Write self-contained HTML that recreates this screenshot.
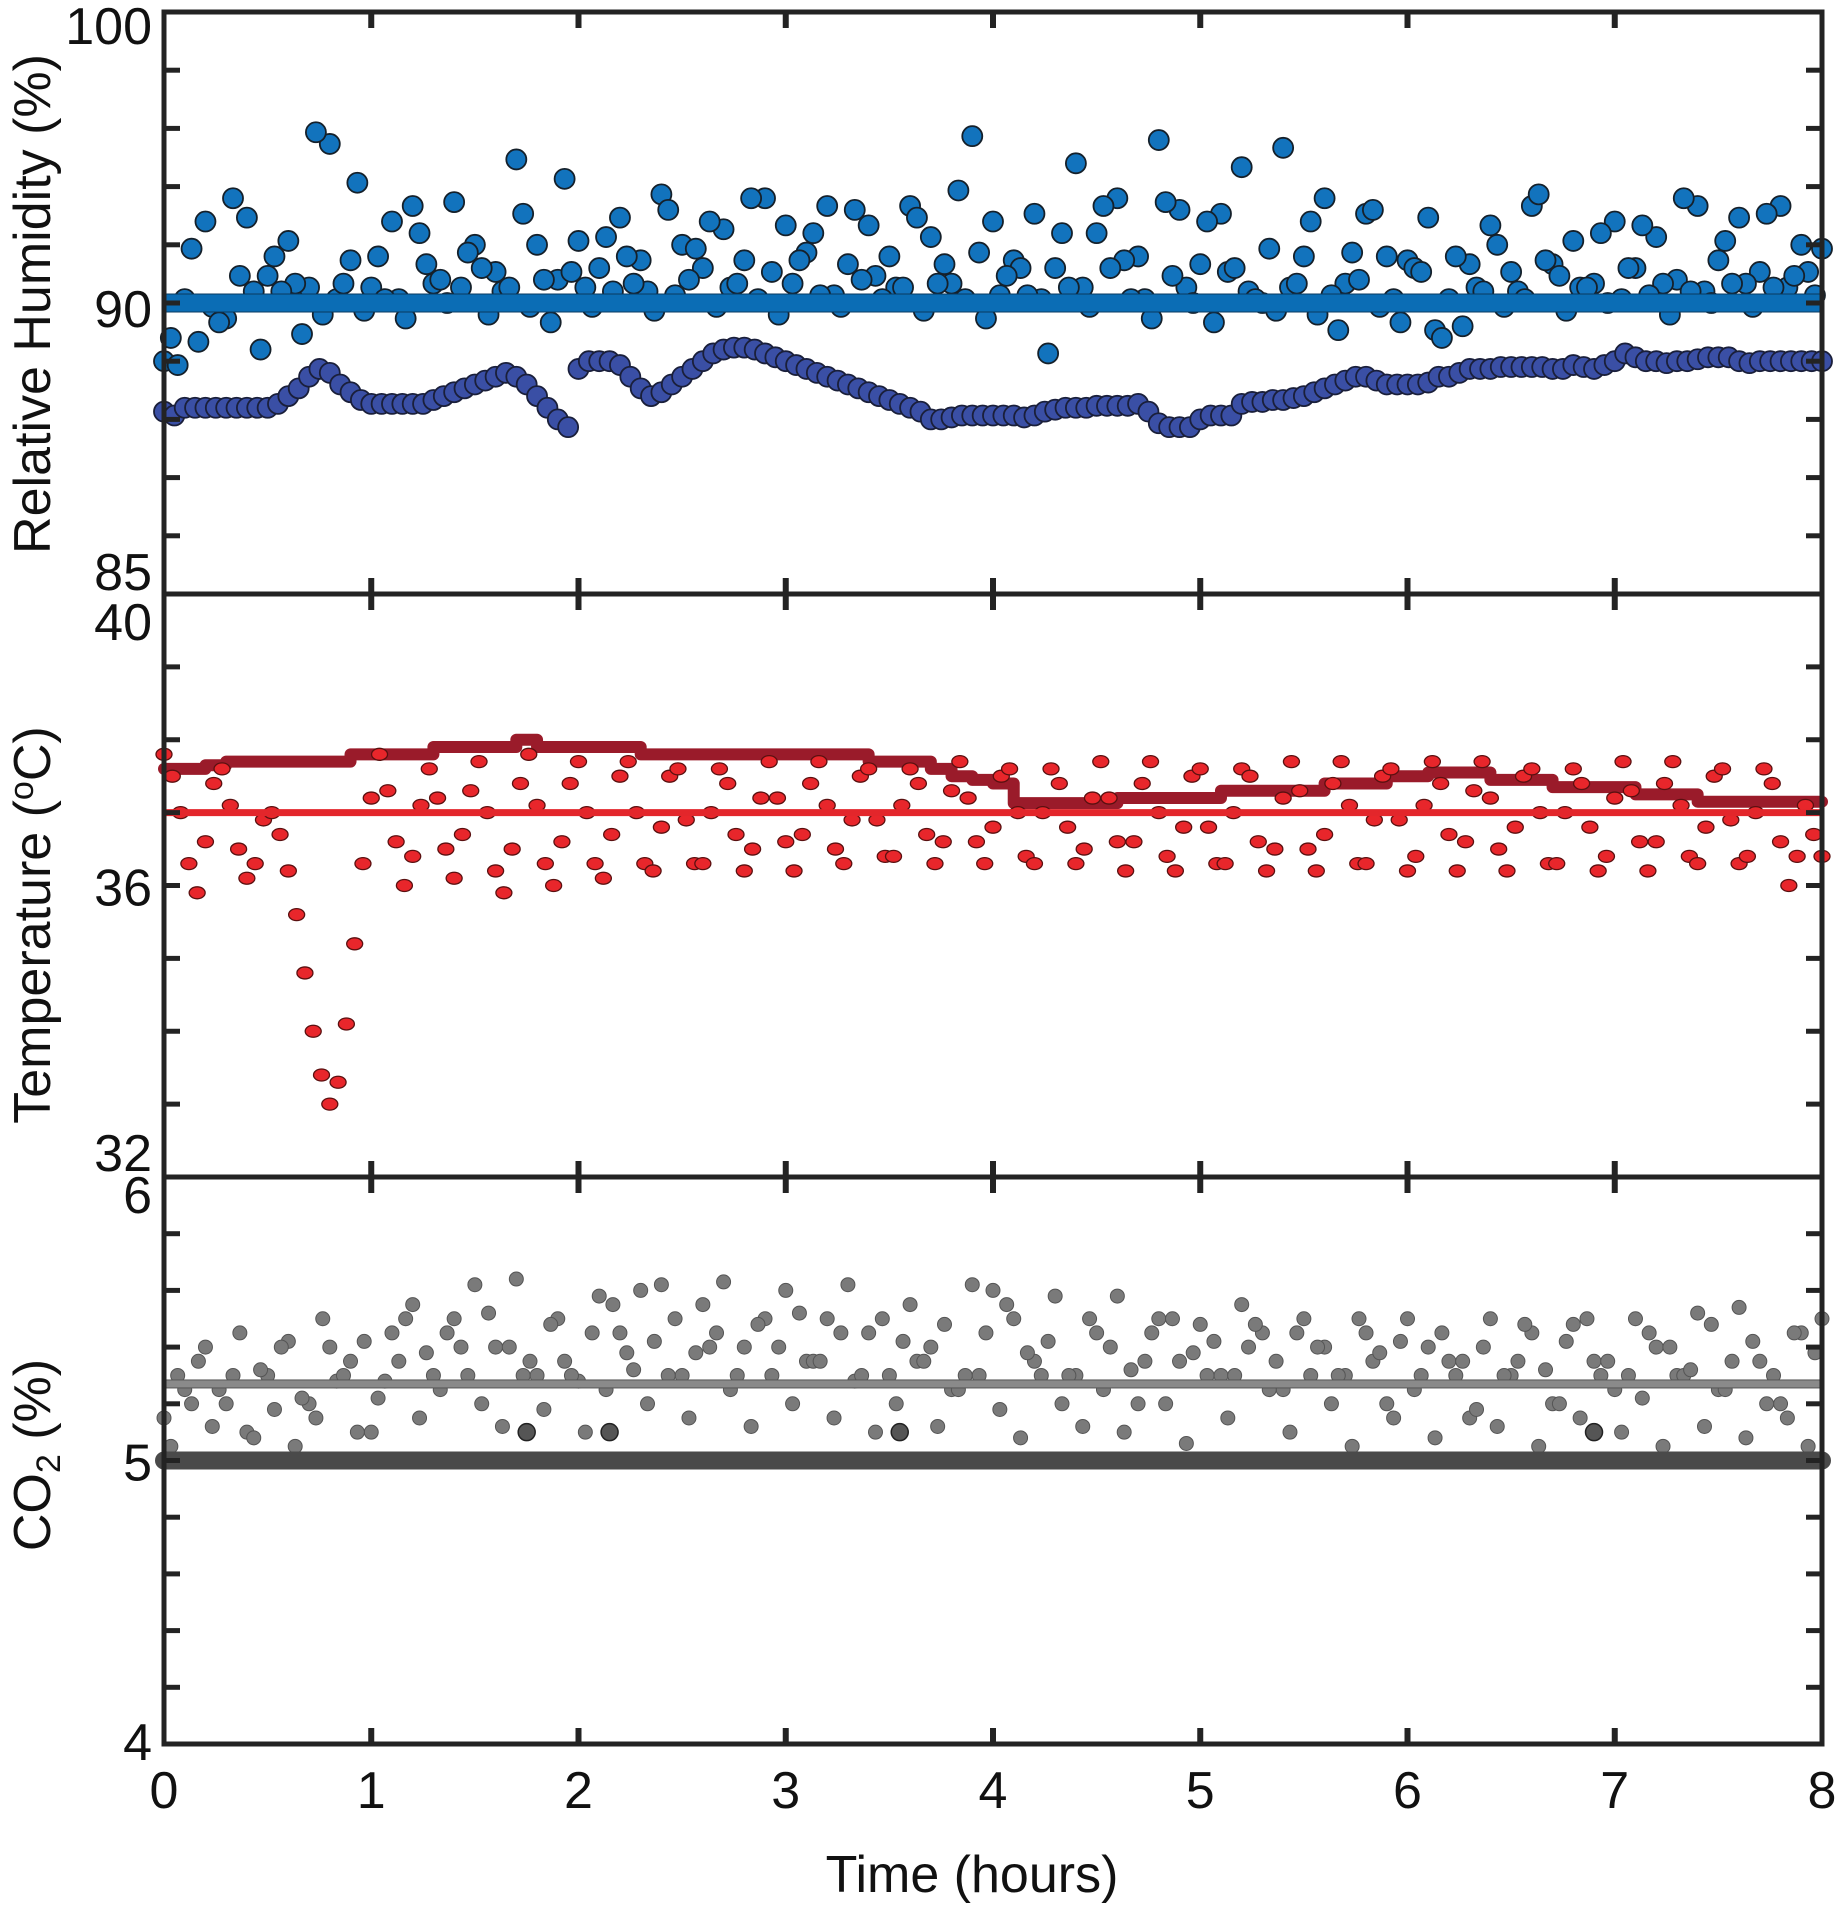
<!DOCTYPE html>
<html><head><meta charset="utf-8"><style>
html,body{margin:0;padding:0;background:#fff;}
svg{display:block;font-family:"Liberation Sans",sans-serif;}
</style></head><body>
<svg id="fig" width="1838" height="1909" viewBox="0 0 1838 1909" xmlns="http://www.w3.org/2000/svg">
<g id="marks"></g>
<g id="axes"></g>
<text x="972" y="1892" font-size="52" text-anchor="middle" fill="#111">Time (hours)</text>
<text transform="translate(50,304) rotate(-90)" font-size="52" text-anchor="middle" fill="#111">Relative Humidity (%)</text>
<text transform="translate(50,925) rotate(-90)" font-size="52" text-anchor="middle" fill="#111">Temperature (<tspan font-size="34" dy="-17">o</tspan><tspan dy="17">C)</tspan></text>
<text transform="translate(50,1455) rotate(-90)" font-size="52" text-anchor="middle" fill="#111">CO<tspan font-size="34" dy="10">2</tspan><tspan dy="-10"> (%)</tspan></text>
</svg>
<script>
// ---------- data ----------
const xTickLabels = ["0","1","2","3","4","5","6","7","8"];
const humLineValue = 92.5;
const humScatterA = [91.0,92.6,94.6,92.1,94.7,93.2,94.1,92.9,96.6,93.6,92.9,94.6,95.0,93.0,95.1,94.0,93.3,96.2,94.0,93.1,94.1,93.4,94.7,93.6,95.3,94.0,93.4,94.4,93.6,95.2,94.5,93.8,95.0,93.5,94.5,93.7,95.0,94.2,93.0,96.8,94.6,93.6,94.8,93.4,96.1,94.3,95.2,93.7,96.7,94.9,93.5,94.8,96.0,92.5,96.5,93.7,95.2,93.0,94.8,93.7,93.6,94.7,92.6,93.5,94.5,93.3,95.0,93.5,94.1,93.0,94.6,93.4,94.2,93.1,95.0,93.6,94.7,93.3,95.0,94.0,93.9];
const humScatterB = [91.6,93.9,92.4,95.2,92.8,93.7,93.0,96.9,92.6,95.6,93.7,92.6,94.3,93.1,92.9,93.4,92.8,94.8,93.1,95.7,92.9,94.2,93.7,92.8,94.9,93.1,94.6,92.9,95.2,93.3,93.0,94.3,92.7,94.9,93.2,92.9,94.7,93.0,95.4,93.8,92.7,93.4,92.6,94.3,92.9,95.0,93.6,92.6,95.1,92.9,94.6,93.3,92.8,93.9,92.9,94.6,92.7,93.8,94.9,92.6,93.4,91.8,93.7,92.9,94.0,92.8,95.3,93.2,92.9,94.3,92.6,94.5,93.0,95.2,92.8,94.1,93.0,94.8,92.9,93.3];
const humScatterC = [90.9,91.5,92.0,93.2,91.3,92.8,91.7,92.2,93.0,92.3,92.6,92.1,93.5,92.5,93.8,92.2,92.9,92.4,92.0,93.3,92.4,92.8,93.0,92.3,92.7,93.9,92.4,93.0,92.6,92.2,93.6,92.7,92.4,93.1,92.6,92.9,92.3,93.5,92.6,92.1,93.2,92.7,91.2,92.9,92.4,93.4,92.6,92.1,93.2,92.5,92.0,93.4,92.6,92.3,93.0,92.2,91.8,93.1,92.4,92.0,93.3,91.6,91.9,92.8,92.4,92.6,93.6,92.3,92.9,92.5,93.4,92.7,92.2,92.8,92.5,93.0,92.4,92.9,93.2,92.7];
const humSensor = [89.7,89.6,89.8,89.8,89.8,89.8,89.8,89.8,89.8,89.8,89.8,89.9,90.1,90.3,90.6,90.8,90.7,90.4,90.2,90.0,89.9,89.9,89.9,89.9,89.9,89.9,90.0,90.1,90.2,90.3,90.4,90.5,90.6,90.7,90.6,90.4,90.1,89.8,89.5,89.3,90.8,91.0,91.0,91.0,90.9,90.6,90.3,90.1,90.2,90.4,90.6,90.8,91.0,91.2,91.3,91.35,91.35,91.3,91.2,91.1,91.0,90.9,90.8,90.7,90.6,90.5,90.4,90.3,90.2,90.1,90.0,89.9,89.8,89.7,89.5,89.5,89.55,89.6,89.6,89.6,89.6,89.6,89.6,89.55,89.6,89.7,89.75,89.8,89.8,89.8,89.85,89.85,89.85,89.85,89.9,89.7,89.4,89.3,89.3,89.3,89.5,89.6,89.6,89.6,89.9,89.95,89.95,90.0,90.0,90.05,90.1,90.2,90.3,90.4,90.5,90.6,90.6,90.5,90.4,90.4,90.4,90.4,90.45,90.6,90.6,90.7,90.8,90.8,90.8,90.85,90.85,90.85,90.85,90.85,90.8,90.8,90.9,90.85,90.8,90.9,91.0,91.2,91.1,91.0,91.0,90.95,91.0,91.0,91.05,91.1,91.1,91.1,91.0,90.95,91.0,91.0,91.0,91.0,91.0,91.0,91.0];
const tempLineValue = 37.0;
const tempSensorStep = [37.6,37.6,37.65,37.7,37.7,37.7,37.7,37.7,37.7,37.8,37.8,37.8,37.8,37.9,37.9,37.9,37.9,38.0,37.9,37.9,37.9,37.9,37.9,37.8,37.8,37.8,37.8,37.8,37.8,37.8,37.8,37.8,37.8,37.8,37.7,37.7,37.7,37.6,37.5,37.45,37.4,37.13,37.13,37.13,37.13,37.13,37.2,37.2,37.2,37.2,37.2,37.3,37.3,37.3,37.3,37.3,37.4,37.4,37.4,37.5,37.5,37.55,37.55,37.55,37.45,37.45,37.45,37.35,37.35,37.35,37.35,37.25,37.25,37.25,37.15,37.15,37.15,37.15,37.15,37.15,37.15];
const tempScatter = [37.8,37.5,37.0,36.3,35.9,36.6, 37.4,37.6,37.1,36.5,36.1,36.3, 36.9,37.0,36.7,36.2,35.6,34.8, 34.0,33.4,33.0,33.3,34.1,35.2, 36.3,37.2,37.8,37.3,36.6,36.0, 36.4,37.1,37.6,37.2,36.5,36.1, 36.7,37.3,37.7,37.0,36.2,35.9, 36.5,37.4,37.8,37.1,36.3,36.0, 36.6,37.4,37.7,37.0,36.3,36.1, 36.7,37.5,37.7,37.0,36.3,36.2, 36.8,37.5,37.6,36.9,36.3,36.3, 37.0,37.6,37.4,36.7,36.2,36.5, 37.2,37.7,37.2,36.6,36.2,36.7, 37.4,37.7,37.1,36.5,36.3,36.9, 37.5,37.6,36.9,36.4,36.4,37.1, 37.6,37.4,36.7,36.3,36.6,37.3, 37.7,37.2,36.6,36.3,36.8,37.5, 37.6,37.0,36.4,36.3,37.0,37.6, 37.4,36.8,36.3,36.5,37.2,37.7, 37.2,36.6,36.2,36.6,37.4,37.7, 37.0,36.4,36.2,36.8,37.5,37.6, 36.8,36.3,36.3,37.0,37.6,37.5, 36.6,36.2,36.5,37.2,37.7,37.3, 36.5,36.2,36.7,37.4,37.7,37.1, 36.3,36.3,36.9,37.5,37.6,36.9, 36.2,36.4,37.1,37.7,37.4,36.7, 36.2,36.6,37.3,37.7,37.2,36.5, 36.2,36.8,37.5,37.6,37.0,36.3, 36.3,37.0,37.6,37.4,36.8,36.2, 36.4,37.2,37.7,37.3,36.6,36.2, 36.6,37.4,37.7,37.1,36.4,36.3, 36.8,37.5,37.6,36.9,36.3,36.4, 37.0,37.6,37.4,36.6,36.0,36.4, 37.1,36.7,36.4];
const co2LineValue = 5.27;
const co2BaseValue = 5.0;
const co2SpikeTimes = [1.75, 2.15, 3.55, 6.9];
const co2SpikeValues = [5.1, 5.1, 5.1, 5.1];
const co2ScatterA = [5.15,5.25,5.4,5.2,5.1,5.3,5.42,5.2,5.4,5.35,5.1,5.45,5.55,5.3,5.5,5.62,5.4,5.64,5.3,5.5,5.28,5.58,5.45,5.6,5.62,5.3,5.55,5.63,5.4,5.5,5.6,5.35,5.5,5.62,5.45,5.3,5.55,5.4,5.25,5.62,5.6,5.5,5.35,5.58,5.3,5.45,5.58,5.2,5.5,5.35,5.48,5.3,5.55,5.45,5.25,5.5,5.4,5.3,5.45,5.2,5.5,5.4,5.35,5.15,5.5,5.3,5.45,5.2,5.48,5.35,5.25,5.5,5.4,5.3,5.52,5.25,5.54,5.35,5.2,5.45,5.5];
const co2ScatterB = [5.05,5.2,5.12,5.3,5.08,5.18,5.05,5.15,5.28,5.1,5.22,5.35,5.15,5.25,5.4,5.2,5.12,5.3,5.18,5.35,5.1,5.25,5.38,5.2,5.3,5.15,5.4,5.25,5.12,5.3,5.2,5.35,5.15,5.28,5.1,5.2,5.35,5.12,5.25,5.3,5.18,5.08,5.3,5.2,5.12,5.25,5.1,5.35,5.2,5.06,5.3,5.15,5.4,5.25,5.1,5.3,5.2,5.05,5.35,5.15,5.25,5.08,5.3,5.18,5.12,5.35,5.05,5.2,5.15,5.3,5.1,5.22,5.05,5.3,5.12,5.25,5.08,5.2,5.15,5.05];
const co2ScatterC = [5.3,5.35,5.25,5.45,5.32,5.4,5.22,5.5,5.3,5.42,5.28,5.5,5.38,5.45,5.3,5.52,5.4,5.35,5.48,5.3,5.45,5.55,5.32,5.42,5.5,5.38,5.45,5.3,5.48,5.4,5.52,5.35,5.45,5.3,5.5,5.42,5.35,5.48,5.3,5.45,5.55,5.38,5.42,5.3,5.5,5.4,5.32,5.45,5.5,5.38,5.42,5.3,5.48,5.35,5.45,5.4,5.3,5.5,5.38,5.42,5.3,5.45,5.35,5.4,5.3,5.48,5.32,5.42,5.5,5.35,5.3,5.45,5.4,5.32,5.48,5.35,5.42,5.3,5.45,5.38];
const humTickLabels = ["100","90","85"];
const humTickLabelValues = [100, 92.5, 85];
const tempTickLabels = ["40","36","32"];
const tempTickLabelValues = [40, 36, 32];
const co2TickLabels = ["6","5","4"];
const co2TickLabelValues = [6, 5, 4];

// ---------- layout ----------
const NS = "http://www.w3.org/2000/svg";
const XL = 164, XR = 1822;
const panels = [
  {top:12, bot:594, min:85, max:100, step:1.5},
  {top:594, bot:1177, min:32, max:40, step:1},
  {top:1177, bot:1744, min:4, max:6, step:0.2}
];
function x(t){ return XL + (XR-XL)*t/8; }
function yOf(p, v){ return p.bot - (p.bot-p.top)*(v-p.min)/(p.max-p.min); }
const marks = document.getElementById('marks');
const axes = document.getElementById('axes');
function mk(tag, attrs, parent){
  const e = document.createElementNS(NS, tag);
  for (const k in attrs) e.setAttribute(k, attrs[k]);
  parent.appendChild(e); return e;
}
function idxTime(i, n, offset, span){ return offset + i*span/(n-1); }

// ---------- humidity ----------
const P1 = panels[0];
const hg = mk('g', {}, marks);


[[humScatterA,0,8],[humScatterB,0.033,7.9],[humScatterC,0.066,7.9]].forEach(([arr,off,span])=>{
  arr.forEach((v,i)=>{
    const c = mk('circle', {cx:x(idxTime(i,arr.length,off,span)), cy:yOf(P1,v), r:10, fill:'#1273bd', stroke:'#15202a', 'stroke-width':1.8}, hg);
    
    
  });
});
humSensor.forEach((v,i)=>{
  const c = mk('circle', {cx:x(idxTime(i,humSensor.length,0,8)), cy:yOf(P1,v), r:10, fill:'#3a4fa5', stroke:'#1a1f3a', 'stroke-width':1.8}, hg);
  
  
});
const hl = mk('rect', {x:XL, y:yOf(P1,humLineValue)-9, width:XR-XL, height:18, fill:'#0b6db5', stroke:'#0a3a60', 'stroke-width':1}, hg);



// ---------- temperature ----------
const P2 = panels[1];
const tg = mk('g', {}, marks);


let d = '';
tempSensorStep.forEach((v,i)=>{
  const t0 = idxTime(i,tempSensorStep.length,0,8);
  const yy = yOf(P2,v);
  d += (i===0 ? 'M' : 'L') + x(t0) + ' ' + yy + ' L' + x(Math.min(8,t0+0.1)) + ' ' + yy + ' ';
});
const sp = mk('path', {d:d, fill:'none', stroke:'#9a1b2a', 'stroke-width':12, 'stroke-linejoin':'round', 'stroke-linecap':'round'}, tg);


tempScatter.forEach((v,i)=>{
  const c = mk('ellipse', {cx:x(idxTime(i,tempScatter.length,0,8)), cy:yOf(P2,v), rx:8, ry:6, fill:'#e8262b', stroke:'#5a1010', 'stroke-width':1.3}, tg);
  
  
});
const tl = mk('rect', {x:XL, y:yOf(P2,tempLineValue)-3.5, width:XR-XL, height:7, fill:'#e3262b'}, tg);



// ---------- CO2 ----------
const P3 = panels[2];
const cg = mk('g', {}, marks);


[[co2ScatterA,0,8],[co2ScatterB,0.033,7.9],[co2ScatterC,0.066,7.9]].forEach(([arr,off,span])=>{
  arr.forEach((v,i)=>{
    const c = mk('circle', {cx:x(idxTime(i,arr.length,off,span)), cy:yOf(P3,v), r:7, fill:'#7a7a7a', stroke:'#555', 'stroke-width':1}, cg);
    
    
  });
});
const cl = mk('rect', {x:XL, y:yOf(P3,co2LineValue)-4, width:XR-XL, height:8, fill:'#8a8a8a', stroke:'#555', 'stroke-width':1}, cg);


const bl = mk('line', {x1:x(0), y1:yOf(P3,co2BaseValue), x2:x(8), y2:yOf(P3,co2BaseValue), stroke:'#4a4a4a', 'stroke-width':18, 'stroke-linecap':'round'}, cg);


co2SpikeTimes.forEach((t,i)=>{
  const c = mk('circle', {cx:x(t), cy:yOf(P3,co2SpikeValues[i]), r:8.5, fill:'#555', stroke:'#222', 'stroke-width':1.5}, cg);
  
  
});

// ---------- axes ----------
const AX = '#232323';
panels.forEach((p,pi)=>{
  const fr = mk('rect', {x:XL, y:p.top, width:XR-XL, height:p.bot-p.top, fill:'none', stroke:AX, 'stroke-width':5}, axes);
  
  
  const n = Math.round((p.max-p.min)/p.step);
  for (let k=1;k<n;k++){
    const yy = yOf(p, p.min + k*p.step);
    const a = mk('line', {x1:XL, y1:yy, x2:XL+16, y2:yy, stroke:AX, 'stroke-width':5}, axes);
    
    
    const b = mk('line', {x1:XR-16, y1:yy, x2:XR, y2:yy, stroke:AX, 'stroke-width':5}, axes);
    
    
  }
  for (let h=1;h<8;h++){
    const a = mk('line', {x1:x(h), y1:p.top, x2:x(h), y2:p.top+16, stroke:AX, 'stroke-width':6}, axes);
    
    
    const b = mk('line', {x1:x(h), y1:p.bot-16, x2:x(h), y2:p.bot, stroke:AX, 'stroke-width':6}, axes);
    
    
  }
});
function yLabels(p, labels, values, offsets){
  labels.forEach((s,i)=>{
    const t = mk('text', {x:152, y:yOf(p, values[i]) + offsets[i], 'font-size':52, 'text-anchor':'end', fill:'#111'}, axes);
    t.textContent = s;
    
    
  });
}
yLabels(P1, humTickLabels, humTickLabelValues, [32, 24, -4]);
yLabels(P2, tempTickLabels, tempTickLabelValues, [46, 20, -6]);
yLabels(P3, co2TickLabels, co2TickLabelValues, [36, 20, 16]);
xTickLabels.forEach((s,i)=>{
  const t = mk('text', {x:x(i), y:1808, 'font-size':52, 'text-anchor':'middle', fill:'#111'}, axes);
  t.textContent = s;
  
  
});
</script>
</body></html>
